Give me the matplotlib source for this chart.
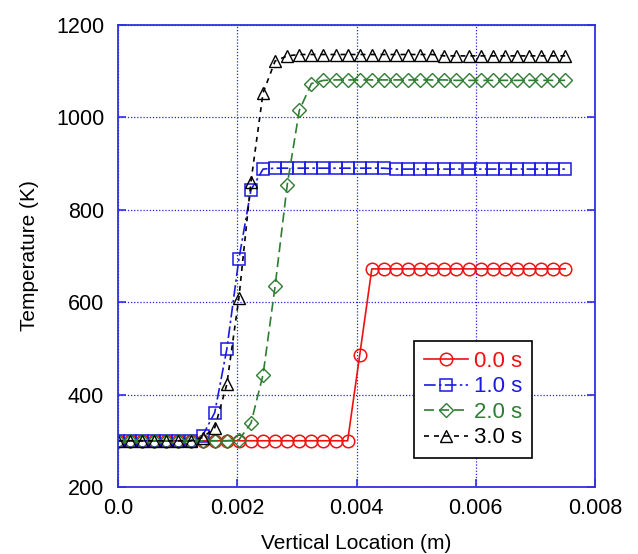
import numpy as np
import matplotlib
matplotlib.use("Agg")
import matplotlib.pyplot as plt

plt.rcParams['font.family'] = ['Liberation Sans', 'DejaVu Sans']

# vertical locations (38 cell positions from 0 to 0.0075 m)
x = np.linspace(0.0, 0.0075, 38)

t0 = [300] * 20 + [486] + [672] * 17
t1 = ([300] * 7 + [311, 361, 498, 693, 843, 888]
      + [890] * 10 + [888] * 15)
t2 = ([300] * 10 + [302, 338, 443, 635, 854, 1015, 1073, 1080]
      + [1081] * 10 + [1080] * 10)
t3 = ([300] * 7 + [307, 328, 422, 609, 861, 1053, 1122, 1133]
      + [1136] * 12 + [1133] * 11)

labels = ['0.0 s', '1.0 s', '2.0 s', '3.0 s']
colors = ['#ee1111', '#1a1ae0', '#2e7d32', '#000000']

fig = plt.figure(figsize=(6.38, 5.54), dpi=100)
ax = fig.add_axes([0.185, 0.121, 0.7476, 0.834])

ax.plot(x, t0, '-', color=colors[0], marker='o', ms=9, mfc='none', mew=1.1, lw=1.2, label=labels[0])
ax.plot(x, t1, color=colors[1], ls=(0, (7, 2, 1.5, 2)), marker='s', ms=8.5, mfc='none', mew=1.1, lw=1.2, label=labels[1])
ax.plot(x, t2, color=colors[2], ls=(0, (6, 3)), marker='D', ms=7.5, mfc='none', mew=1.0, lw=1.2, label=labels[2])
ax.plot(x, t3, color=colors[3], ls=(0, (3, 3)), marker='^', ms=9, mfc='none', mew=1.0, lw=1.2, label=labels[3])

ax.set_xlim(0, 0.008)
ax.set_ylim(200, 1200)
ax.set_xticks([0.0, 0.002, 0.004, 0.006, 0.008])
ax.set_xticklabels(['0.0', '0.002', '0.004', '0.006', '0.008'])
ax.set_yticks([200, 400, 600, 800, 1000, 1200])
ax.grid(True, color='#2222ee', ls=(0, (1, 1.5)), lw=0.9)

for s in ax.spines.values():
    s.set_color('#3030e0')
    s.set_linewidth(1.3)
ax.tick_params(direction='in', length=6, width=1.2, color='#3030e0',
               labelsize=15.5, top=False, right=True)
ax.tick_params(axis='x', pad=8)
ax.tick_params(axis='y', pad=10)

ax.set_xlabel('Vertical Location (m)', fontsize=15, labelpad=11)
ax.set_ylabel('Temperature (K)', fontsize=15, labelpad=12)

leg = ax.legend(loc='upper left', bbox_to_anchor=(0.6205, 0.316), borderaxespad=0,
                fontsize=16, fancybox=False, edgecolor='black', framealpha=1,
                handlelength=2.0, borderpad=0.45, labelspacing=0.2, handletextpad=0.25)
leg.get_frame().set_linewidth(1.2)
for txt, c in zip(leg.get_texts(), colors):
    txt.set_color(c)

fig.savefig('out.png', dpi=100)
